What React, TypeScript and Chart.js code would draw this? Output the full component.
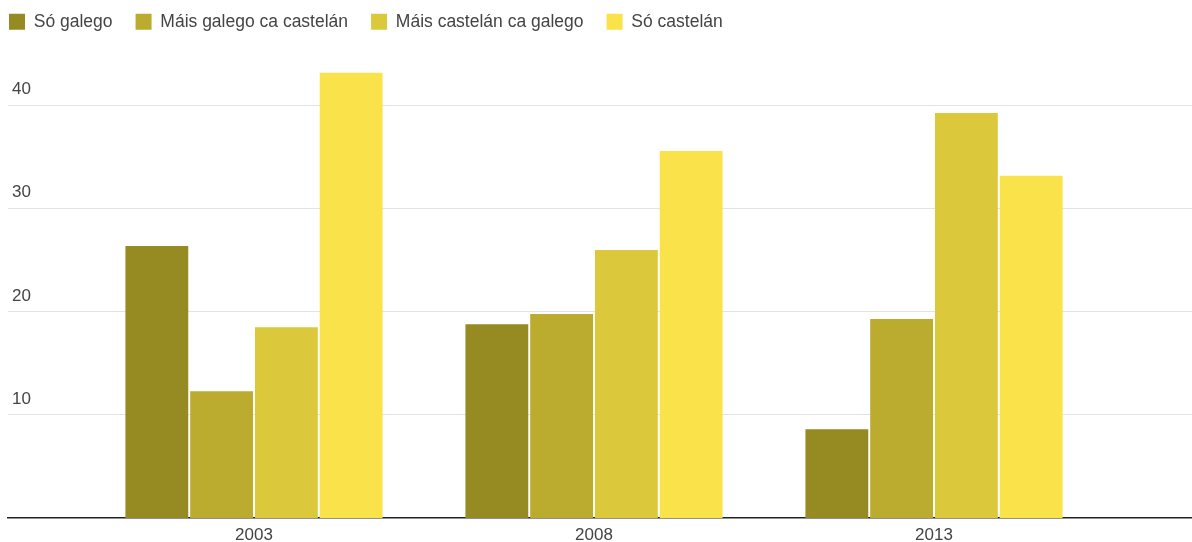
import React, { useEffect, useRef } from "react";
import { Chart, registerables } from "chart.js";

Chart.register(...registerables);

const years = ["2003", "2008", "2013"];
const seriesNames = ["Só galego", "Máis galego ca castelán", "Máis castelán ca galego", "Só castelán"];
const soGalego = [26.4, 18.8, 8.6];
const maisGalego = [12.3, 19.8, 19.3];
const maisCastelan = [18.5, 26.0, 39.3];
const soCastelan = [43.2, 35.6, 33.2];
const colors = ["#968a22", "#bbab2f", "#dcc83b", "#fae24a"];
const yTicks = [10, 20, 30, 40];

const FONT = "'Liberation Sans', Arial, sans-serif";

const legendShift = {
  id: "legendShift",
  afterLayout(chart: any) {
    if (chart.legend) {
      chart.legend.left = -14;
      chart.legend.top = -10;
      if (chart.legend.adjustHitBoxes) chart.legend.adjustHitBoxes();
    }
  },
};

export default function App() {
  const ref = useRef<HTMLCanvasElement>(null);
  useEffect(() => {
    document.body.style.margin = "0";
    document.body.style.overflow = "hidden";
    const all = [soGalego, maisGalego, maisCastelan, soCastelan];
    const chart = new Chart(ref.current!, {
      type: "bar",
      data: {
        datasets: all.map((vals, i) => ({
          label: seriesNames[i],
          data: vals.map((v, j) => ({ x: j, y: v })),
          backgroundColor: colors[i],
          borderWidth: 0,
          categoryPercentage: 0.762,
          barPercentage: 0.97,
        })),
      },
      options: {
        animation: false,
        responsive: false,
        maintainAspectRatio: false,
        layout: { padding: { left: 8, right: 0, top: 14, bottom: 0 } },
        plugins: {
          tooltip: { enabled: false },
          legend: {
            position: "top",
            align: "start",
            labels: {
              boxWidth: 16,
              boxHeight: 16,
              padding: 23,
              color: "#444",
              font: { family: FONT, size: 17.5 },
            },
          },
        },
        scales: {
          x: {
            type: "linear",
            offset: false,
            min: -0.7235,
            max: 2.7588,
            afterBuildTicks: (s: any) => {
              s.ticks = years.map((_, i) => ({ value: i }));
            },
            afterFit: (s: any) => {
              s.height = 24;
            },
            ticks: {
              callback: (v: any) => years[v] ?? "",
              color: "#444",
              padding: 7,
              maxRotation: 0,
              font: { family: FONT, size: 17 },
            },
            grid: { display: false, drawTicks: false, offset: false },
            border: { display: true, color: "#222", width: 1.5 },
          },
          y: {
            min: 0,
            max: 44,
            afterBuildTicks: (s: any) => {
              s.ticks = yTicks.map((v) => ({ value: v }));
            },
            afterFit: (s: any) => {
              s.width = 0;
            },
            ticks: {
              mirror: true,
              padding: 4,
              labelOffset: -16,
              color: "#444",
              font: { family: FONT, size: 17 },
            },
            grid: { color: "#e3e3e3", drawTicks: false, lineWidth: 1 },
            border: { display: false },
          },
        },
      },
      plugins: [legendShift],
    } as any);
    return () => chart.destroy();
  }, []);
  return (
    <div style={{ width: 1192, height: 542 }}>
      <canvas ref={ref} width={1192} height={542} style={{ display: "block" }} />
    </div>
  );
}
